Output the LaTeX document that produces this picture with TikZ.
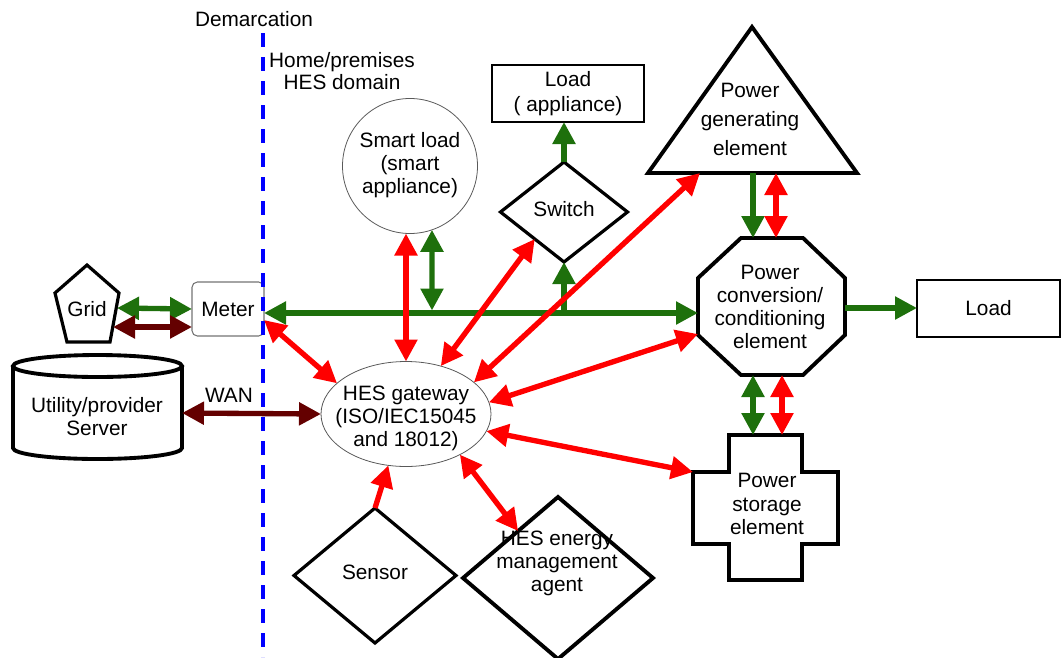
\documentclass[tikz,border=0pt]{standalone}
\usepackage{fontspec}
\setmainfont{Liberation Sans}
\usetikzlibrary{arrows.meta,shapes.geometric,calc}
\definecolor{gr}{RGB}{30,112,12}
\definecolor{dr}{RGB}{100,0,0}
\definecolor{rd}{RGB}{255,0,0}
\definecolor{bl}{RGB}{0,0,255}
\begin{document}
\begin{tikzpicture}[x=0.75pt,y=-0.75pt,
  every node/.style={inner sep=0pt, outer sep=0pt, align=center,
    font=\fontsize{15.6}{17.3}\selectfont},
  >={Triangle[length=16.5pt,width=16.5pt]},
  heavy/.style={draw=black, line width=2.4pt, line join=miter},
  heavier/.style={draw=black, line width=2.9pt, line join=miter},
  thinshape/.style={draw=black!65, line width=0.6pt},
  boxshape/.style={draw=black, line width=1.1pt, rectangle},
  gline/.style={draw=gr, line width=4pt},
  rline/.style={draw=rd, line width=4pt},
  dline/.style={draw=dr, line width=4pt},
  demarc/.style={draw=bl, line width=3pt, dash pattern=on 10.5pt off 7.5pt}
]
\useasboundingbox (0,0) rectangle (1062,657);

% ---------- shapes ----------
% grid (pentagon)
\draw[heavy] (87,265) -- (119,293) -- (110,342) -- (67,342) -- (55,293) -- cycle;
% meter
\node[draw=black!55, line width=0.8pt, rounded corners=4pt, minimum width=54pt,
      minimum height=40.5pt] (meter) at (228,309) {Meter};
% utility server (cylinder)
\draw[heavier] (13,366) -- (13,448) arc[start angle=180, end angle=0, x radius=84.5, y radius=11] -- (182,366);
\draw[heavier] (97.5,366) ellipse[x radius=84.5, y radius=11];
% smart load
\node[circle, thinshape, minimum size=101.25pt] (sl) at (410,166) {};
% load (appliance)
\node[boxshape, minimum width=114pt, minimum height=42.75pt] (la) at (568,93.5)
  {Load\\[1.5pt]( appliance)};
% switch
\node[diamond, heavy, minimum width=95.25pt, minimum height=75pt] (sw) at (564,212) {};
% power generating element
\draw[heavier] (752,27) -- (857,173) -- (648,173) -- cycle;
% power conversion / conditioning element
\draw[heavier] (741,238) -- (803,238) -- (845,278) -- (845,335) -- (803,375)
  -- (741,375) -- (698,335) -- (698,278) -- cycle;
% load
\node[boxshape, minimum width=107.25pt, minimum height=42.75pt] (ld) at (988.5,308.5) {Load};
% HES gateway
\node[ellipse, thinshape, minimum width=127.5pt, minimum height=78.75pt] (gw) at (406,414) {};
% power storage element
\draw[heavier] (729,435) -- (802,435) -- (802,472) -- (838,472) -- (838,544) -- (802,544)
  -- (802,580) -- (729,580) -- (729,544) -- (693,544) -- (693,472) -- (729,472) -- cycle;
% sensor and management agent
\node[diamond, heavy, minimum width=121.5pt, minimum height=101.25pt] (sen) at (375,575.5) {};
\node[diamond, heavier, minimum width=142.5pt, minimum height=121.5pt] (ag) at (558,578) {};

% demarcation line
\draw[demarc] (263,33) -- (263,657);

% ---------- labels ----------
\node[anchor=base west] (tdem) at (195,26) {Demarcation};
\node[font=\fontsize{15.6}{16.5}\selectfont] (thome) at (342,71) {Home/premises\\HES domain};
\node (tgrid) at (87,309) {Grid};
\node (tsrv) at (97,416.5) {Utility/provider\\Server};
\node (twan) at (229,395) {WAN};
\node (tsl) at (410,165) {Smart load\\(smart\\appliance)};
\node (tsw) at (564,209) {Switch};
\node[font=\fontsize{15.6}{21.75}\selectfont] (tgen) at (750,119) {Power\\generating\\element};
\node (tconv) at (770,307) {Power\\conversion/\\conditioning\\element};
\node (tgw) at (406,418) {HES gateway\\(ISO/IEC15045\\and 18012)};
\node (tsto) at (767,504) {Power\\storage\\element};
\node (tsen) at (375,572) {Sensor};
\node (tag) at (557,563) {HES energy\\management\\agent};

% ---------- connection points on drawn outlines ----------
\coordinate (gridG) at (117,308);
\coordinate (gridR) at (113,327);
\coordinate (srvE) at (182,413);
\coordinate (busL) at (264,313);
\coordinate (busR) at (698,313);
\coordinate (busA) at (432,310.5);
\coordinate (busS) at (564,313);
\coordinate (mtrR) at (264,320);
\coordinate (swSW) at ($(sw.west)!0.54!(sw.south)$);
\coordinate (triBL) at (700,173);
\coordinate (triB1) at (753,173);
\coordinate (triB2) at (776,173);
\coordinate (octT1) at (753,238);
\coordinate (octT2) at (776,238);
\coordinate (octB1) at (753,375);
\coordinate (octB2) at (782,375);
\coordinate (crT1) at (753,435);
\coordinate (crT2) at (782,435);
\coordinate (octLL) at (698,334);
\coordinate (octR) at (845,308);
\coordinate (crL) at (693,472);
\coordinate (agNW) at ($(ag.west)!0.58!(ag.north)$);

% ---------- power flows (green) ----------
\draw[gline, <->] (gridG) -- (meter.west);
\draw[gline, <->] (busL) -- (busR);
\draw[gline, <->] (sl.-71) -- (busA);
\draw[gline, ->] (busS) -- (sw.south);
\draw[gline, ->] (sw.north) -- (sw.north |- la.south);
\draw[gline, ->] (triB1) -- (octT1);
\draw[gline, <->] (octB1) -- (crT1);
\draw[gline, ->] (octR) -- (octR -| ld.west);

% ---------- utility links (dark red) ----------
\draw[dline, <->] (gridR) -- ($(meter.west)+(0,18)$);
\draw[dline, <->] (srvE) -- (gw.west);

% ---------- HES communication (red) ----------
\draw[rline, <->] (gw.north) -- (gw.north |- sl.south);
\draw[rline, <->] (gw.54) -- (swSW);
\draw[rline, <->] (gw.25) -- (triBL);
\draw[rline, <->] (mtrR) -- (gw.156);
\draw[rline, <->] (gw.8.6) -- (octLL);
\draw[rline, <->] (gw.-12.5) -- (crL);
\draw[rline, ->] (sen.north) -- (gw.-109);
\draw[rline, <->] (gw.-37.4) -- (agNW);
\draw[rline, <->] (triB2) -- (octT2);
\draw[rline, <->] (octB2) -- (crT2);
\end{tikzpicture}
\end{document}
